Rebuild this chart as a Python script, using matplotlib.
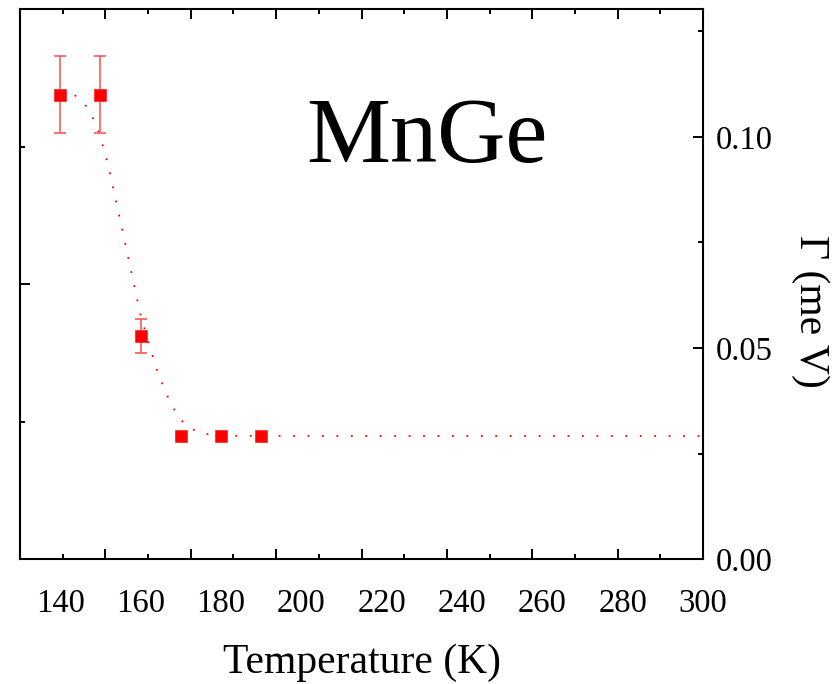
import numpy as np
import matplotlib
matplotlib.use("Agg")
import matplotlib.pyplot as plt

plt.rcParams['font.family'] = ['Liberation Serif', 'DejaVu Serif']

# measured linewidth vs temperature
temps = [140, 150, 160, 170, 180, 190]
gamma = [0.1100, 0.1100, 0.0528, 0.0292, 0.0292, 0.0292]
gamma_err = [0.0091, 0.0091, 0.0041, 0.0, 0.0, 0.0]

# dotted guide curve
guide_t = [140, 143.75, 146.9, 148.75, 150, 152, 155, 158, 160, 162, 164,
           166, 168, 170, 172, 175, 180, 300]
guide_g = [0.1100, 0.1098, 0.1069, 0.1033, 0.1000, 0.0931, 0.0800, 0.0667,
           0.0578, 0.0512, 0.0450, 0.0400, 0.0360, 0.0330, 0.0312, 0.0298,
           0.0292, 0.0291]

temp_ticks = [140, 160, 180, 200, 220, 240, 260, 280, 300]
gamma_ticks = [0.00, 0.05, 0.10]

xmin, xmax = 130, 300
ymin, ymax = 0.0, 0.1303

fig = plt.figure(figsize=(8.37, 6.84), dpi=100)
ax = fig.add_axes([0.0239, 0.1827, 0.8161, 0.8041])

ax.plot(guide_t, guide_g, color='red', lw=1.3, dashes=(1, 7.0),
        dash_capstyle='butt', zorder=2)
ax.errorbar(temps, gamma, yerr=gamma_err, fmt='none', ecolor='#ff5a5a',
            elinewidth=1.2, capsize=4.3, capthick=1.2, zorder=3)
ax.plot(temps, gamma, 's', color='red', markersize=8.6,
        markeredgecolor='#ff3030', markeredgewidth=0.6, linestyle='none',
        zorder=4)

ax.set_xlim(xmin, xmax)
ax.set_ylim(ymin, ymax)

# frame ticks (Origin-style, not aligned with labels)
step = (xmax - xmin) / 8
ax.set_xticks([xmin + step * k for k in range(9)])
ax.set_xticks([xmin + step * (k + 0.5) for k in range(8)], minor=True)
ax.tick_params(axis='x', which='both', direction='in', top=True,
               bottom=True, labelbottom=False)
ax.tick_params(axis='x', which='major', length=7, width=1.4)
ax.tick_params(axis='x', which='minor', length=3.6, width=1.4)

secx = ax.secondary_xaxis('bottom')
secx.set_xticks(temp_ticks)
secx.set_xticklabels([str(t) for t in temp_ticks])
secx.tick_params(length=0, pad=21, labelsize=23.5)
secx.spines['bottom'].set_visible(False)
secx.set_xlabel('Temperature (K)', fontsize=30, labelpad=18)

ax.yaxis.tick_right()
ax.set_yticks(gamma_ticks)
ax.set_yticklabels(['%.2f' % g for g in gamma_ticks])
ax.set_yticks([0.025, 0.075, 0.125], minor=True)
ax.tick_params(axis='y', which='both', direction='in', right=True,
               left=False, labelsize=23.5, pad=9)
ax.tick_params(axis='y', which='major', length=7, width=1.4)
ax.tick_params(axis='y', which='minor', length=3.6, width=1.4)

fig.text(810 / 837, 1 - 311 / 684, 'Γ (me V)', fontsize=30, rotation=270,
         ha='center', va='center')

secy = ax.secondary_yaxis('left')
secy.set_yticks([ymin, ymax / 2, ymax])
secy.set_yticks([ymax / 4, 3 * ymax / 4], minor=True)
secy.tick_params(which='both', direction='in', labelleft=False, width=1.4)
secy.tick_params(which='major', length=7)
secy.tick_params(which='minor', length=3.6)
secy.spines['left'].set_visible(False)

for s in ax.spines.values():
    s.set_linewidth(1.5)

ax.text(0.596, 0.7218, 'MnGe', transform=ax.transAxes, fontsize=68,
        ha='center', va='baseline')

fig.savefig('out.png', dpi=100)
